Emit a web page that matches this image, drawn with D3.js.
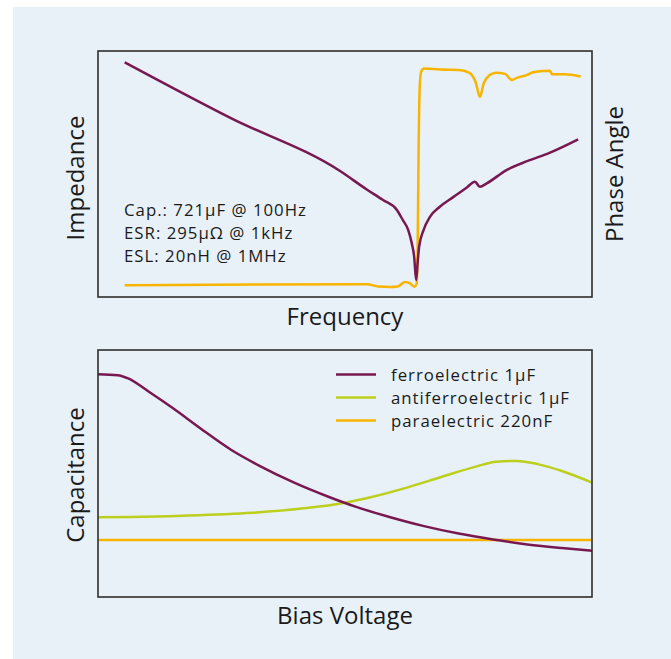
<html>
<head>
<meta charset="utf-8">
<script src="https://d3js.org/d3.v7.min.js"></script>
<style>
  body { margin: 0; background: #ffffff; }
  text { font-family: 'Open Sans', 'Noto Sans', sans-serif; fill: #1a1a1a; }
  .small { font-size: 16.8px; letter-spacing: 1px; }
</style>
</head>
<body>
<svg width="671" height="659"></svg>
<script>
// impedance / phase vs frequency (normalised units, 0..100)
var impFreq = [5.4, 27.0, 49.0, 54.4, 57.7, 60.5, 61.7, 62.8, 63.5, 64.0, 64.4, 64.7, 65.0, 65.9, 67.2, 69.2, 71.9, 74.6, 76.3, 77.3, 78.7, 82.7, 87.0, 91.5, 97.2];
var impedance = [95.4, 72.6, 51.2, 43.7, 39.4, 35.4, 31.3, 27.2, 22.0, 16.4, 6.9, 13.8, 20.4, 27.2, 32.6, 36.7, 40.6, 44.4, 46.9, 44.8, 46.2, 51.6, 55.3, 58.7, 64.1];

var phaseFreq = [5.4, 54.5, 56.7, 59.1, 60.7, 62.1, 63.2, 64.0, 64.5, 64.7, 64.9, 65.1, 65.4, 66.0, 69.2, 73.0, 75.1, 76.5, 77.3, 78.1, 79.3, 80.6, 82.4, 83.8, 84.8, 86.8, 88.3, 91.5, 91.9, 94.5, 97.7];
var phase = [4.8, 5.2, 4.3, 4.1, 4.3, 6.1, 5.5, 4.2, 5.3, 19.1, 59.8, 84.1, 91.5, 92.9, 92.5, 92.3, 91.2, 87.0, 81.3, 87.0, 90.2, 91.2, 90.7, 88.2, 89.1, 90.2, 91.5, 92.0, 90.5, 90.5, 89.6];

var infoLines = ["Cap.: 721\u00b5F @ 100Hz", "ESR: 295\u00b5\u03a9 @ 1kHz", "ESL: 20nH @ 1MHz"];

// capacitance vs bias voltage (normalised units, 0..100)
var ferroBias = [0, 4.0, 6.1, 10.3, 15.2, 20.7, 27.0, 32.6, 39.6, 46.5, 52.1, 59.0, 66.0, 73.0, 80.0, 86.9, 93.9, 100];
var ferroCap = [90.2, 89.8, 88.5, 83.1, 76.4, 68.3, 59.5, 53.2, 46.4, 40.7, 36.6, 32.4, 28.7, 25.7, 23.3, 21.3, 19.8, 18.7];

var antiBias = [0, 6.8, 17.2, 31.2, 41.6, 50.0, 55.6, 62.5, 69.5, 76.5, 80.6, 84.8, 89.0, 93.9, 100];
var antiCap = [32.3, 32.4, 32.9, 34.1, 35.9, 38.2, 40.6, 44.3, 48.6, 52.8, 54.8, 55.1, 53.8, 51.0, 46.3];

var paraBias = [0, 100];
var paraCap = [23.1, 23.1];

var legendLabels = ["ferroelectric 1\u00b5F", "antiferroelectric 1\u00b5F", "paraelectric 220nF"];

var purple = "#781850", orange = "#f9b400", green = "#bccf1c";

var svg = d3.select("svg");

svg.append("rect").attr("x", 13).attr("y", 7).attr("width", 658).attr("height", 652).style("fill", "#e8f1f8");

function zip(xs, ys) { return xs.map(function(v, i) { return [v, ys[i]]; }); }

// top chart
var x1 = d3.scaleLinear().domain([0, 100]).range([98, 592]);
var y1 = d3.scaleLinear().domain([0, 100]).range([297, 51]);

var line1 = d3.line().curve(d3.curveMonotoneX).x(function(d) { return x1(d[0]); }).y(function(d) { return y1(d[1]); });

svg.append("path").datum(zip(phaseFreq, phase)).attr("d", line1)
  .style("fill", "none").style("stroke", orange).style("stroke-width", 2.5).style("stroke-linejoin", "round");
svg.append("path").datum(zip(impFreq, impedance)).attr("d", line1)
  .style("fill", "none").style("stroke", purple).style("stroke-width", 2.5).style("stroke-linejoin", "round");

svg.append("rect").attr("x", x1(0)).attr("y", y1(100)).attr("width", x1(100) - x1(0)).attr("height", y1(0) - y1(100))
  .style("fill", "none").style("stroke", "#2e2e2e").style("stroke-width", 1.6);

// measurement note
svg.append("g").selectAll("text").data(infoLines).enter().append("text")
  .attr("class", "small").attr("x", 124).attr("y", function(d, i) { return 216 + i * 23; })
  .text(function(d) { return d; });

svg.append("text").attr("x", x1(50)).attr("y", 325).attr("text-anchor", "middle").style("font-size", "24px").text("Frequency");
svg.append("text").attr("transform", "translate(84,178) rotate(-90)").attr("text-anchor", "middle").style("font-size", "24px").text("Impedance");
svg.append("text").attr("transform", "translate(623,174) rotate(-90)").attr("text-anchor", "middle").style("font-size", "24px").text("Phase Angle");

// bottom chart
var x2 = d3.scaleLinear().domain([0, 100]).range([98, 592]);
var y2 = d3.scaleLinear().domain([0, 100]).range([597, 350]);

var line2 = d3.line().curve(d3.curveMonotoneX).x(function(d) { return x2(d[0]); }).y(function(d) { return y2(d[1]); });

var series = [
  { pts: zip(ferroBias, ferroCap), color: purple },
  { pts: zip(antiBias, antiCap), color: green },
  { pts: zip(paraBias, paraCap), color: orange }
];

svg.append("g").selectAll("path").data([series[2], series[1], series[0]]).enter().append("path")
  .attr("d", function(d) { return line2(d.pts); })
  .style("fill", "none").style("stroke", function(d) { return d.color; }).style("stroke-width", 2.5);

svg.append("rect").attr("x", x2(0)).attr("y", y2(100)).attr("width", x2(100) - x2(0)).attr("height", y2(0) - y2(100))
  .style("fill", "none").style("stroke", "#2e2e2e").style("stroke-width", 1.6);

var legend = svg.append("g").selectAll("g").data(legendLabels).enter().append("g")
  .attr("transform", function(d, i) { return "translate(336," + (374.5 + i * 23) + ")"; });
legend.append("line").attr("x1", 0).attr("x2", 40).attr("y1", 0).attr("y2", 0)
  .style("stroke", function(d, i) { return series[i].color; }).style("stroke-width", 2.5);
legend.append("text").attr("class", "small").attr("x", 55).attr("y", 6.5).text(function(d) { return d; });

svg.append("text").attr("x", x2(50)).attr("y", 624).attr("text-anchor", "middle").style("font-size", "24px").text("Bias Voltage");
svg.append("text").attr("transform", "translate(84,475) rotate(-90)").attr("text-anchor", "middle").style("font-size", "24px").text("Capacitance");
</script>
</body>
</html>
